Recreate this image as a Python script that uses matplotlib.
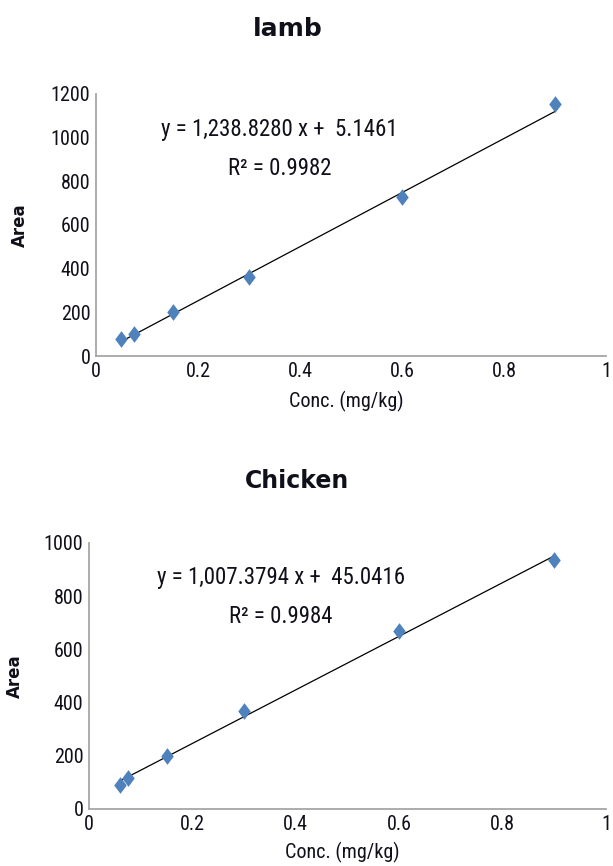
import matplotlib
matplotlib.use("Agg")
import matplotlib.pyplot as plt
from matplotlib import font_manager
import numpy as np

names = {f.name for f in font_manager.fontManager.ttflist}
base = "DejaVu Sans"
for cand in ["Liberation Sans Narrow", "Roboto Condensed", "DejaVu Sans Condensed",
             "Open Sans Condensed", "Lato"]:
    if cand in names:
        base = cand
        break
plt.rcParams['font.family'] = [base, 'DejaVu Sans']

titles = ["lamb", "Chicken"]
lamb_conc = [0.05, 0.075, 0.15, 0.3, 0.6, 0.9]
lamb_area = [76, 101, 203, 363, 728, 1152]
chicken_conc = [0.06, 0.075, 0.15, 0.3, 0.6, 0.9]
chicken_area = [91, 116, 200, 367, 668, 935]
slopes = [1238.8280, 1007.3794]
intercepts = [5.1461, 45.0416]
eq_labels = ["y = 1,238.8280 x +  5.1461", "y = 1,007.3794 x +  45.0416"]
r2_labels = ["R² = 0.9982", "R² = 0.9984"]
ymax = [1200, 1000]
xticks = [0, 0.2, 0.4, 0.6, 0.8, 1]
xticklabels = ["0", "0.2", "0.4", "0.6", "0.8", "1"]

W, H = 613, 866
fig = plt.figure(figsize=(W / 100, H / 100), dpi=100)
# axes boxes in pixel coords: left, right, top, bottom
px = [(96, 606, 94, 356), (89, 606, 543, 809)]
rects = [[l / W, (H - b) / H, (r - l) / W, (b - t) / H] for l, r, t, b in px]
data = [(lamb_conc, lamb_area), (chicken_conc, chicken_area)]
eq_pos = [(0.359, 0.865, 0.36, 0.714), (0.371, 0.872, 0.371, 0.722)]
title_pos = [(288 / W, 1 - 29 / H), (297 / W, 1 - 481 / H)]
title_size = [18, 17]
xlabel_y = [-0.135, -0.122]
ylabel_x = [-0.132, -0.125]
diamond = [(0, 1), (0.75, 0), (0, -1), (-0.75, 0), (0, 1)]
txt_color = "#10101a"

for i in range(2):
    ax = fig.add_axes(rects[i])
    xs, ys = data[i]
    xl = np.array([min(xs), max(xs)])
    ax.plot(xl, slopes[i] * xl + intercepts[i], color="black", lw=0.9, zorder=2)
    ax.plot(xs, ys, linestyle="none", marker=diamond, color="#4F81BD",
            markersize=12, markeredgewidth=0, zorder=3)
    ax.set_xlim(0, 1)
    ax.set_ylim(0, ymax[i])
    ax.set_xticks(xticks)
    ax.set_xticklabels(xticklabels)
    ax.set_yticks(np.arange(0, ymax[i] + 1, 200))
    ax.tick_params(length=0, labelsize=14.5, pad=4, labelcolor=txt_color)
    for s in ["top", "right"]:
        ax.spines[s].set_visible(False)
    for s in ["left", "bottom"]:
        ax.spines[s].set_color("#A6A6A6")
        ax.spines[s].set_linewidth(1.3)
    ax.set_xlabel("Conc. (mg/kg)", fontsize=14.5, color=txt_color)
    ax.xaxis.set_label_coords(0.49, xlabel_y[i])
    ax.set_ylabel("Area", fontsize=12, fontweight="bold", family="DejaVu Sans", color=txt_color)
    ax.yaxis.set_label_coords(ylabel_x[i], 0.5)
    fig.text(title_pos[i][0], title_pos[i][1], titles[i], fontsize=title_size[i],
             fontweight="bold", family="DejaVu Sans", ha="center", va="center", color=txt_color)
    ex, ey, rx, ry = eq_pos[i]
    ax.text(ex, ey, eq_labels[i], transform=ax.transAxes, ha="center", va="center",
            fontsize=16.5, color=txt_color)
    ax.text(rx, ry, r2_labels[i], transform=ax.transAxes, ha="center", va="center",
            fontsize=16.5, color=txt_color)

fig.savefig("out.png", dpi=100, facecolor="white")
